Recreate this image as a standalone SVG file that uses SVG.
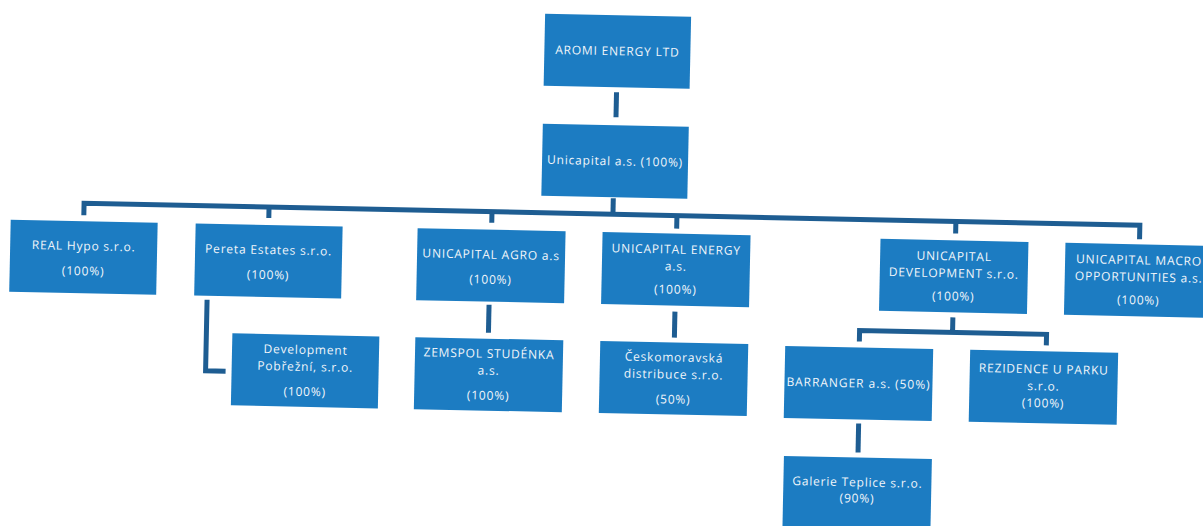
<svg xmlns="http://www.w3.org/2000/svg" width="1203" height="526" viewBox="0 0 1203 526">
<style>
.box{fill:#1c7cc2}
.t{font-family:'Open Sans','Liberation Sans',sans-serif;font-size:12px;fill:#f2f6fa;text-anchor:middle;letter-spacing:0.8px}
.c{stroke:#1e5d92;stroke-width:5;fill:none}
</style>
<rect width="1203" height="526" fill="#ffffff"/>
<g transform="rotate(1.2 600 260)">
<g id="connectors">
<path class="c" d="M613 92V117"/>
<path class="c" d="M612 198V214"/>
<path class="c" d="M83 226V214H1139V228"/>
<path class="c" d="M268 214V225M491 214V225M676 214V227M955 214V226"/>
<path class="c" d="M208 308V379H228"/>
<path class="c" d="M490 307V335"/>
<path class="c" d="M676 310V336"/>
<path class="c" d="M954 310V325M861 336V325H1048V336"/>
<path class="c" d="M862 418V447"/>
</g>
<g id="aromi"><rect class="box" x="540" y="15" width="146" height="72"/><text class="t" x="613" y="55">AROMI ENERGY LTD</text></g>
<g id="unicapital"><rect class="box" x="540" y="125" width="146" height="72"/><text class="t" x="613" y="165">Unicapital a.s. (100%)</text></g>
<g id="realhypo"><rect class="box" x="10" y="232" width="147" height="72"/><text class="t" x="83.5" y="261">REAL Hypo s.r.o.</text><text class="t" x="83.5" y="286">(100%)</text></g>
<g id="pereta"><rect class="box" x="195" y="232" width="147" height="72"/><text class="t" x="268.5" y="261">Pereta Estates s.r.o.</text><text class="t" x="268.5" y="286">(100%)</text></g>
<g id="agro"><rect class="box" x="417" y="232" width="148" height="72"/><text class="t" x="491" y="261">UNICAPITAL AGRO a.s</text><text class="t" x="491" y="286">(100%)</text></g>
<g id="energy"><rect class="box" x="602" y="232" width="148" height="72"/><text class="t" x="676" y="252">UNICAPITAL ENERGY</text><text class="t" x="676" y="269">a.s.</text><text class="t" x="676" y="292">(100%)</text></g>
<g id="development"><rect class="box" x="880" y="233" width="148" height="72"/><text class="t" x="954" y="253">UNICAPITAL</text><text class="t" x="954" y="270">DEVELOPMENT s.r.o.</text><text class="t" x="954" y="293">(100%)</text></g>
<g id="macro"><rect class="box" x="1065" y="233" width="150" height="72"/><text class="t" x="1139" y="253">UNICAPITAL MACRO</text><text class="t" x="1139" y="270">OPPORTUNITIES a.s.</text><text class="t" x="1139" y="293">(100%)</text></g>
<g id="pobrezni"><rect class="box" x="234" y="341" width="147" height="72"/><text class="t" x="307.5" y="360">Development</text><text class="t" x="307.5" y="377">Pobřežní, s.r.o.</text><text class="t" x="307.5" y="402">(100%)</text></g>
<g id="zemspol"><rect class="box" x="417" y="341" width="148" height="72"/><text class="t" x="491" y="360">ZEMSPOL STUDÉNKA</text><text class="t" x="491" y="377">a.s.</text><text class="t" x="491" y="402">(100%)</text></g>
<g id="ceskomoravska"><rect class="box" x="602" y="341" width="148" height="72"/><text class="t" x="676" y="360">Českomoravská</text><text class="t" x="676" y="377">distribuce s.r.o.</text><text class="t" x="676" y="402">(50%)</text></g>
<g id="barranger"><rect class="box" x="787" y="342" width="148" height="72"/><text class="t" x="861" y="382" textLength="144" lengthAdjust="spacing">BARRANGER a.s. (50%)</text></g>
<g id="rezidence"><rect class="box" x="972" y="342" width="148" height="72"/><text class="t" x="1046" y="364">REZIDENCE U PARKU</text><text class="t" x="1046" y="381">s.r.o.</text><text class="t" x="1046" y="398">(100%)</text></g>
<g id="galerie"><rect class="box" x="788" y="452" width="148" height="80"/><text class="t" x="862" y="481">Galerie Teplice s.r.o.</text><text class="t" x="862" y="497">(90%)</text></g>
</g>
</svg>
